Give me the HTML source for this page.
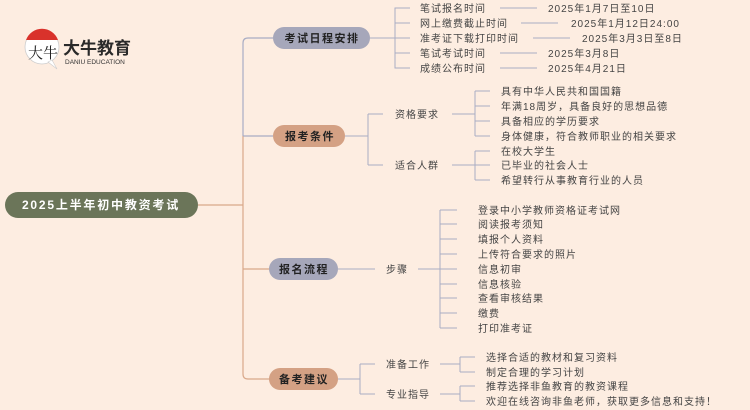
<!DOCTYPE html>
<html><head><meta charset="utf-8"><style>
body{margin:0;background:#fdede1;}
svg{display:block;font-family:"Liberation Sans","Noto Sans CJK SC",sans-serif;}
.t{font-size:10px;fill:#444;letter-spacing:1px;}
.n{font-size:11px;font-weight:bold;fill:#222;letter-spacing:1.5px;}
</style></head><body>
<svg width="750" height="410" viewBox="0 0 750 410">
<rect width="750" height="410" fill="#fdede1"/>
<!-- logo -->
<circle cx="42" cy="47" r="17" fill="#fff" stroke="#ccc" stroke-width="0.8"/>
<path d="M26 40 A17 17 0 0 1 58 40 Z" fill="#d9322b"/>
<path d="M48 62 L57 69 L52 60 Z" fill="#fff" stroke="#ccc" stroke-width="0.6"/>
<text x="28" y="58" font-size="15" font-family="Noto Serif CJK SC,serif" fill="#222">大牛</text>
<text x="63" y="54" font-size="17" font-weight="bold" fill="#2a2a2a">大牛教育</text>
<text x="65" y="64" font-size="6.5" fill="#333">DANIU EDUCATION</text>

<g fill="none" stroke-width="1.2">
<path d="M198 205 H243 M243 205 V136" stroke="#d9a88a"/>
<path d="M243 136 V43 Q243 38 248 38 H273" stroke="#a9adc4"/>
<path d="M243 136 H273" stroke="#a9adc4"/>
<path d="M243 205 V374 Q243 379 248 379 H269 M243 269 H269" stroke="#d9a88a"/>
</g>
<g fill="none" stroke="#a9adc4" stroke-width="1">
<path d="M370 38 H395 M400 8 H395 V68 H400 M395 23 H410 M395 38 H410 M395 53 H410 M395 8 H410 M395 68 H410"/>
<path d="M500 8 H537 M521 23 H558 M533 38 H570 M500 53 H537 M500 68 H537"/>
<path d="M345 136 H368 M368 114 V165 M368 114 H383 M368 165 H383"/>
<path d="M452 114 H475 M475 91 V136 M475 91 H490 M475 106 H490 M475 121 H490 M475 136 H490"/>
<path d="M452 165 H475 M475 151 V180 M475 151 H490 M475 165 H490 M475 180 H490"/>
<path d="M338 269 H375 M418 269 H440 M440 210 V328"/>
<path d="M440 210 H457 M440 224 H457 M440 239 H457 M440 254 H457 M440 269 H457 M440 284 H457 M440 298 H457 M440 313 H457 M440 328 H457"/>
<path d="M338 379 H360 M360 364 V394 M360 364 H375 M360 394 H375"/>
<path d="M440 364 H460 M460 357 V372 M460 357 H475 M460 372 H475"/>
<path d="M440 394 H460 M460 386 V401 M460 386 H475 M460 401 H475"/>
</g>

<rect x="5" y="192" width="193" height="26" rx="13" fill="#6b7559"/>
<text x="101" y="209" text-anchor="middle" font-size="12" font-weight="bold" fill="#fff" letter-spacing="1.8">2025上半年初中教资考试</text>

<rect x="273" y="27" width="97" height="22" rx="11" fill="#a6a7ba"/>
<text x="322" y="42" text-anchor="middle" class="n">考试日程安排</text>
<rect x="273" y="125" width="72" height="22" rx="11" fill="#d4a184"/>
<text x="310" y="140" text-anchor="middle" class="n">报考条件</text>
<rect x="269" y="258" width="69" height="22" rx="11" fill="#a6a7ba"/>
<text x="304" y="273" text-anchor="middle" class="n">报名流程</text>
<rect x="269" y="368" width="69" height="22" rx="11" fill="#d4a184"/>
<text x="304" y="383" text-anchor="middle" class="n">备考建议</text>

<g>
<text x="420" y="12" class="t">笔试报名时间</text>
<text x="420" y="27" class="t">网上缴费截止时间</text>
<text x="420" y="42" class="t">准考证下载打印时间</text>
<text x="420" y="57" class="t">笔试考试时间</text>
<text x="420" y="72" class="t">成绩公布时间</text>
<text x="548" y="12" class="t">2025年1月7日至10日</text>
<text x="571" y="27" class="t">2025年1月12日24:00</text>
<text x="582" y="42" class="t">2025年3月3日至8日</text>
<text x="548" y="57" class="t">2025年3月8日</text>
<text x="548" y="72" class="t">2025年4月21日</text>

<text x="395" y="118" class="t">资格要求</text>
<text x="395" y="169" class="t">适合人群</text>
<text x="501" y="95" class="t">具有中华人民共和国国籍</text>
<text x="501" y="110" class="t">年满18周岁，具备良好的思想品德</text>
<text x="501" y="125" class="t">具备相应的学历要求</text>
<text x="501" y="140" class="t">身体健康，符合教师职业的相关要求</text>
<text x="501" y="155" class="t">在校大学生</text>
<text x="501" y="169" class="t">已毕业的社会人士</text>
<text x="501" y="184" class="t">希望转行从事教育行业的人员</text>

<text x="386" y="273" class="t">步骤</text>
<text x="478" y="214" class="t">登录中小学教师资格证考试网</text>
<text x="478" y="228" class="t">阅读报考须知</text>
<text x="478" y="243" class="t">填报个人资料</text>
<text x="478" y="258" class="t">上传符合要求的照片</text>
<text x="478" y="273" class="t">信息初审</text>
<text x="478" y="288" class="t">信息核验</text>
<text x="478" y="302" class="t">查看审核结果</text>
<text x="478" y="317" class="t">缴费</text>
<text x="478" y="332" class="t">打印准考证</text>

<text x="386" y="368" class="t">准备工作</text>
<text x="386" y="398" class="t">专业指导</text>
<text x="486" y="361" class="t">选择合适的教材和复习资料</text>
<text x="486" y="376" class="t">制定合理的学习计划</text>
<text x="486" y="390" class="t">推荐选择非鱼教育的教资课程</text>
<text x="486" y="405" class="t">欢迎在线咨询非鱼老师，获取更多信息和支持！</text>
</g>
</svg>
</body></html>
